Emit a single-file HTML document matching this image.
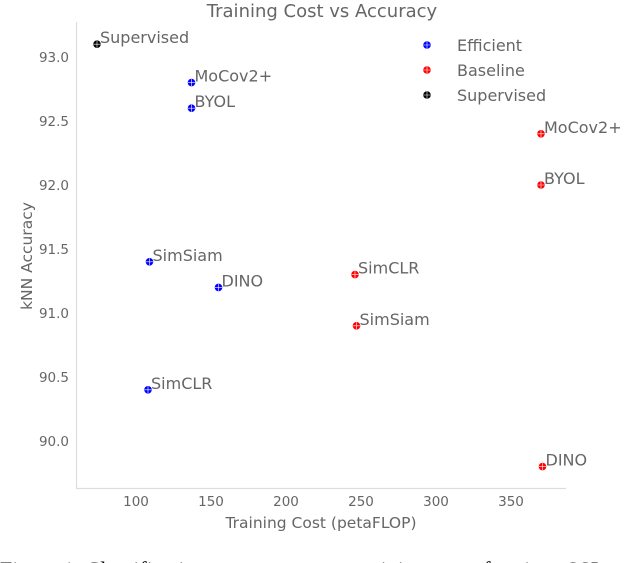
<!DOCTYPE html>
<html><head><meta charset="utf-8"><style>
body{margin:0;background:#fff;width:640px;height:563px;overflow:hidden}
svg{display:block}
text{font-family:"DejaVu Sans","Liberation Sans",sans-serif}
</style></head><body>
<svg id="chart" width="640" height="563" viewBox="0 0 640 563">
<text x="322" y="17" text-anchor="middle" font-size="18" fill="#666">Training Cost vs Accuracy</text>
<line x1="76.5" y1="22" x2="76.5" y2="488" stroke="#ddd" stroke-width="1.2"/>
<line x1="76" y1="488.5" x2="566" y2="488.5" stroke="#ddd" stroke-width="1.2"/>
<g id="xt"></g><g id="yt"></g><g id="pts"></g>
<text x="321" y="528" text-anchor="middle" font-size="15.5" fill="#666">Training Cost (petaFLOP)</text>
<text transform="translate(32,256) rotate(-90)" text-anchor="middle" font-size="15.5" fill="#666">kNN Accuracy</text>
<g>
<circle cx="427" cy="45" r="3.8" fill="#00f"/><path d="M423.5 45h7M427 41.5v7" stroke="#fff" stroke-width="0.6"/>
<text x="457" y="51" font-size="16" fill="#666">Efficient</text>
<circle cx="427" cy="70" r="3.8" fill="#f00"/><path d="M423.5 70h7M427 66.5v7" stroke="#fff" stroke-width="0.6"/>
<text x="457" y="76" font-size="16" fill="#666">Baseline</text>
<circle cx="427" cy="95" r="3.8" fill="#000"/><path d="M423.5 95h7M427 91.5v7" stroke="#fff" stroke-width="0.6"/>
<text x="457" y="101" font-size="16" fill="#666">Supervised</text>
</g>
<text x="0" y="577" font-size="22" fill="#000" style="font-family:'Liberation Serif',serif">Figure 1: Classification accuracy versus training cost of various SSL</text>
</svg>
<script>
const labels=["Supervised","MoCov2+","BYOL","SimSiam","DINO","SimCLR","MoCov2+","BYOL","SimCLR","SimSiam","DINO"];
const groups=["sup","eff","eff","eff","eff","eff","base","base","base","base","base"];
const costs=[74,137,137,109,155,108,370,370,246,247,371];
const accs=[93.1,92.8,92.6,91.4,91.2,90.4,92.4,92.0,91.3,90.9,89.8];
const xTicks=[100,150,200,250,300,350];
const yTicks=[90.0,90.5,91.0,91.5,92.0,92.5,93.0];
const X=v=>136+(v-100)*1.5;
const Y=v=>57+(93-v)*128;
const NS="http://www.w3.org/2000/svg";
const col={sup:"#000",eff:"#00f",base:"#f00"};
function mk(t,a,p){const e=document.createElementNS(NS,t);for(const k in a)e.setAttribute(k,a[k]);p.appendChild(e);return e;}
const xt=document.getElementById("xt"),yt=document.getElementById("yt"),pts=document.getElementById("pts");
xTicks.forEach(v=>{const t=mk("text",{x:X(v),y:506,"text-anchor":"middle","font-size":"13.5",fill:"#666"},xt);t.textContent=v;

});
yTicks.forEach(v=>{const t=mk("text",{x:69,y:Y(v)+5,"text-anchor":"end","font-size":"13.5",fill:"#666"},yt);t.textContent=v.toFixed(1);

});
costs.forEach((c,i)=>{const x=X(c),y=Y(accs[i]);
const g=mk("g",{},pts);


mk("circle",{cx:x,cy:y,r:3.8,fill:col[groups[i]]},g);
mk("path",{d:`M${x-3.5} ${y}h7M${x} ${y-3.5}v7`,stroke:"#fff","stroke-width":0.6},g);
const t=mk("text",{x:x+3,y:y-1,"font-size":"16",fill:"#666"},g);t.textContent=labels[i];});
</script>
</body></html>
